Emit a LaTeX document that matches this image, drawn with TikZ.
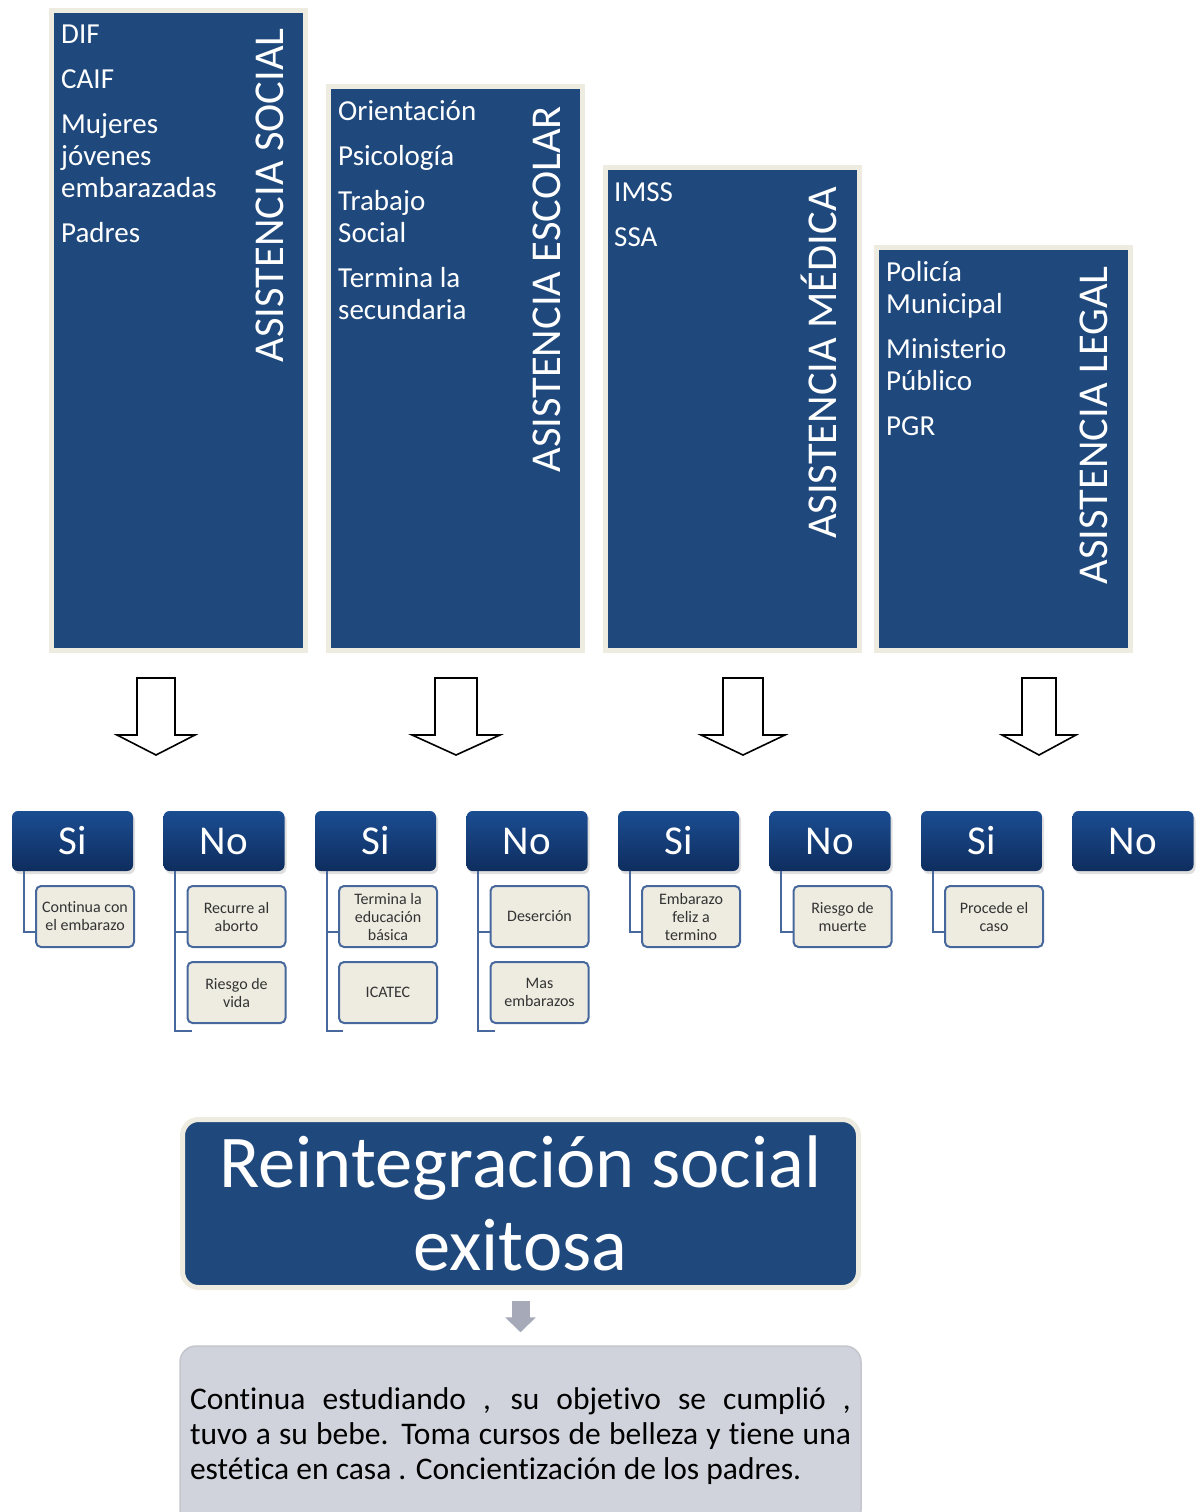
\documentclass[tikz,border=0pt]{standalone}
\usepackage{fontspec}
\setmainfont{Carlito}[Ligatures=NoCommon]
\usetikzlibrary{shadows,arrows.meta}

\definecolor{panelblue}{HTML}{1F497D}
\definecolor{cream}{HTML}{EEECE1}
\definecolor{hdrtop}{HTML}{1B4D92}
\definecolor{hdrbot}{HTML}{0E2D5E}
\definecolor{treeline}{HTML}{46689C}
\definecolor{leaftext}{HTML}{333333}
\definecolor{arrowgray}{HTML}{A5A9B8}
\definecolor{outfill}{HTML}{D0D3DC}

\tikzstyle{panel}=[draw=cream,line width=5pt,fill=panelblue,minimum width=254pt,inner sep=0pt,outer sep=0pt,anchor=north west]
\tikzstyle{paneltitle}=[rotate=90,anchor=east,inner sep=0pt,text=white,font=\fontsize{42.5}{50}\selectfont,text height=0.65em,text depth=0pt]
\tikzstyle{items}=[anchor=north west,inner sep=0pt,text=white,align=left,font=\fontsize{29}{32}\selectfont]
\tikzstyle{hollow}=[draw=black,line width=1.6pt,fill=white,line join=miter]
\tikzstyle{yesno}=[rounded corners=6pt,minimum width=121pt,minimum height=60pt,top color=hdrtop,bottom color=hdrbot,text=white,font=\fontsize{41}{46}\selectfont,drop shadow={opacity=0.25,shadow xshift=2pt,shadow yshift=-3pt}]
\tikzstyle{leaf}=[draw=treeline,line width=2pt,fill=cream,rounded corners=5pt,minimum width=98pt,minimum height=61pt,inner sep=1pt,align=center,text=leaftext,font=\fontsize{16}{18}\selectfont]
\tikzstyle{tree}=[draw=treeline,line width=2pt]
\tikzstyle{goal}=[draw=cream,line width=5pt,fill=panelblue,rounded corners=16pt,minimum width=676pt,minimum height=168pt,text=white,align=center,font=\fontsize{74.5}{83}\selectfont]
\tikzstyle{outcome}=[draw=outfill!85!gray,line width=1.5pt,fill=outfill,rounded corners=16pt,minimum width=681pt,minimum height=180pt,text width=661pt,align=justify,font=\fontsize{31.5}{35}\selectfont]

\begin{document}
\begin{tikzpicture}[x=1pt,y=-1pt]
  \useasboundingbox (0,0) rectangle (1202,1512);

  % the four kinds of help
  \node (social)[panel,minimum height=640pt] at (51.5,10.5) {};
  \node (escolar)[panel,minimum height=564pt] at (328.5,86.5) {};
  \node (medica)[panel,minimum height=483pt] at (605.5,167.5) {};
  \node (legal)[panel,minimum height=403pt] at (876.5,247.5) {};

  \node (socialtitle)[paneltitle] at (280,28) {ASISTENCIA SOCIAL};
  \node (escolartitle)[paneltitle] at (557,106) {ASISTENCIA ESCOLAR};
  \node (medicatitle)[paneltitle] at (833,187) {ASISTENCIA MÉDICA};
  \node (legaltitle)[paneltitle] at (1104,266) {ASISTENCIA LEGAL};

  \node (socialitems)[items] at (61,20.6) {\strut DIF\\[13pt]CAIF\\[13pt]Mujeres\\jóvenes\\embarazadas\\[13pt]Padres};
  \node (escolaritems)[items] at (338,97.6) {\strut Orientación\\[13pt]Psicología\\[13pt]Trabajo\\Social\\[13pt]Termina la\\secundaria};
  \node (medicaitems)[items] at (614,178.6) {\strut IMSS\\[13pt]SSA};
  \node (legalitems)[items] at (886,258.6) {\strut Policía\\Municipal\\[13pt]Ministerio\\Público\\[13pt]PGR};

  % hollow arrows
  \foreach \x/\s/\h in {156/19/39, 456/21/44, 743/20/42, 1039/17/37}{
    \draw[hollow] ({\x-\s},678) -- ({\x+\s},678) -- ({\x+\s},735) -- ({\x+\h},735)
      -- (\x,755) -- ({\x-\h},735) -- ({\x-\s},735) -- cycle;
  }

  % answers
  \foreach \lab [count=\i] in {Si,No,Si,No,Si,No,Si,No}{
    \node (h\i)[yesno] at ({72.5+151.5*(\i-1)},841) {\lab};
  }

  \node (l1-1)[leaf] at (85,916.5) {Continua con\\el embarazo};
  \node (l2-1)[leaf] at (236.5,916.5) {Recurre al\\aborto};
  \node (l2-2)[leaf] at (236.5,992.5) {Riesgo de\\vida};
  \node (l3-1)[leaf] at (388,916.5) {Termina la\\educación\\básica};
  \node (l3-2)[leaf] at (388,992.5) {ICATEC};
  \node (l4-1)[leaf] at (539.5,916.5) {Deserción};
  \node (l4-2)[leaf] at (539.5,992.5) {Mas\\embarazos};
  \node (l5-1)[leaf] at (691,916.5) {Embarazo\\feliz a\\termino};
  \node (l6-1)[leaf] at (842.5,916.5) {Riesgo de\\muerte};
  \node (l7-1)[leaf] at (994,916.5) {Procede el\\caso};

  \foreach \i in {1,...,7}{
    \draw[tree] ([xshift=12pt]h\i.south west) |- ([yshift=-15pt]l\i-1.west);
  }
  \foreach \i in {2,3,4}{
    \draw[tree] ([xshift=12pt]h\i.south west) |- ([xshift=5pt,yshift=-7pt]l\i-2.south west);
  }

  % result
  \node (goal)[goal] at (520.5,1203.5) {Reintegración social\\exitosa};
  \node (outcome)[outcome] at (520.5,1436) {Continua estudiando , su objetivo se cumplió ,\linebreak tuvo a su bebe. Toma cursos de belleza y tiene una\linebreak estética en casa . Concientización de los padres.};

  \draw[-{Triangle[width=30pt,length=15pt]},line width=18pt,draw=arrowgray,shorten <=11pt,shorten >=13pt] (goal) -- (outcome);
\end{tikzpicture}
\end{document}
